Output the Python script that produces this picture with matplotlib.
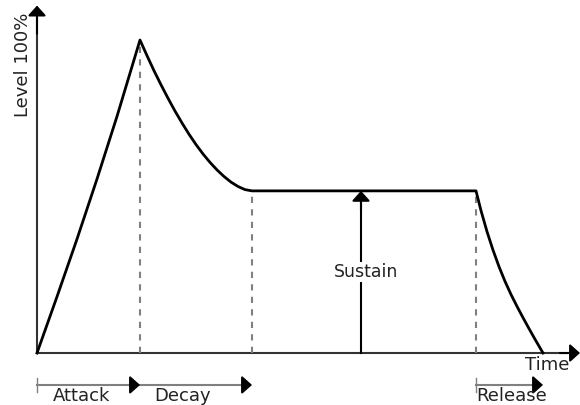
import matplotlib
matplotlib.use("Agg")
import matplotlib.pyplot as plt

# envelope (time in arbitrary units, level in %)
attack_t = [0, 20, 40, 60, 80, 103]
attack_level = [0, 18, 36.4, 55.6, 75.6, 100]
decay_t = [103, 110, 117, 124, 131, 138, 145, 152, 159, 166, 173, 180,
           187, 194, 201, 208, 215]
decay_level = [100, 95.0, 90.2, 85.7, 81.4, 77.3, 73.5, 69.9, 66.6, 63.6,
               60.9, 58.5, 56.4, 54.6, 53.2, 52.2, 51.8]
sustain_t = [215, 439]
sustain_level = 51.8
release_t = [439, 444, 450, 456, 462, 468, 474, 480, 486, 492, 498, 506]
release_level = [51.8, 45.5, 38.8, 32.9, 27.6, 22.9, 18.7, 14.9, 11.3,
                 7.8, 4.4, 0]

time_max = 543
level_max = 110

phase_names = ["Attack", "Decay", "Release"]
phase_spans = [(0, 103), (103, 215), (439, 506)]
phase_label_x = [45, 146, 475]

AXIS = "#333333"
GUIDE = "#808080"


def head(ax, tip, tail, color="black"):
    ax.annotate("", xy=tip, xytext=tail,
                arrowprops=dict(arrowstyle="-|>,head_length=6,head_width=5.4",
                                mutation_scale=1, color=color, lw=1.5,
                                shrinkA=0, shrinkB=0))


fig = plt.figure(figsize=(5.8, 4.05), dpi=100)
ax = fig.add_axes([0, 0, 1, 1])
ax.set_xlim(-37, 543)
ax.set_ylim(-16.61, 112.78)
ax.axis("off")

# axes with arrowheads
ax.plot([0, 0], [0, level_max - 2], color=AXIS, lw=1.5)
head(ax, (0, level_max + 1), (0, level_max - 8))
ax.plot([0, time_max - 5], [0, 0], color=AXIS, lw=1.5)
head(ax, (time_max, 0), (time_max - 20, 0))

# dashed guides
ax.plot([103, 103], [0, 100], color=GUIDE, lw=1.5, ls=(0, (3, 3)))
ax.plot([215, 215], [0, sustain_level], color=GUIDE, lw=1.5, ls=(0, (3, 3)))
ax.plot([439, 439], [0, sustain_level], color=GUIDE, lw=1.5, ls=(0, (3, 3)))

# envelope
env_t = attack_t + decay_t[1:] + sustain_t[1:] + release_t[1:]
env_l = attack_level + decay_level[1:] + [sustain_level] + release_level[1:]
ax.plot(env_t, env_l, color="black", lw=2, solid_joinstyle="round")

# sustain arrow
ax.plot([324, 324], [0, sustain_level - 3], color="black", lw=1.5)
head(ax, (324, sustain_level), (324, sustain_level - 6))
ax.text(329, 25.9, "Sustain", ha="center", va="center", fontsize=12.5,
        color="#222222", bbox=dict(facecolor="white", edgecolor="none", pad=1))

# phase brackets below the time axis
yb = -10.2
for (a, b), name, lx in zip(phase_spans, phase_names, phase_label_x):
    if a in (0, 439):
        ax.plot([a, a], [yb - 2.3, yb + 2.3], color=GUIDE, lw=1)
    ax.plot([a, b - 5], [yb, yb], color=GUIDE, lw=1.5)
    head(ax, (b, yb), (b - 6, yb))
    ax.text(lx, -15.3, name, ha="center", va="baseline", fontsize=13,
            color="#222222")

ax.text(510, -3.8, "Time", ha="center", va="center", fontsize=13,
        color="#222222")
ax.text(-14, 92, "Level 100%", ha="center", va="center", rotation=90,
        fontsize=13, color="#222222")

fig.savefig("out.png", dpi=100)
